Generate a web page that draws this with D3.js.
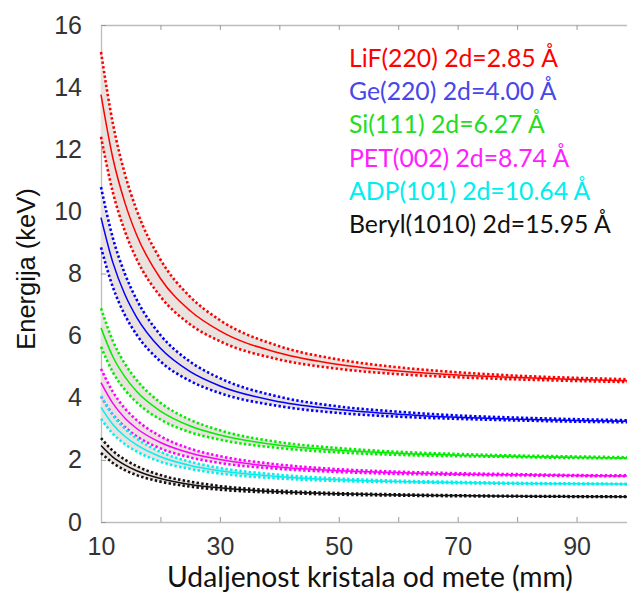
<!DOCTYPE html>
<html>
<head>
<meta charset="utf-8">
<script src="https://cdn.jsdelivr.net/npm/d3@7.8.5/dist/d3.min.js"></script>
<style>
  html, body { margin: 0; padding: 0; background: #fff; }
  svg { display: block; }
</style>
</head>
<body>
<div id="chart"></div>
<script>
// distance of crystal from target (mm)
const distances = [10, 12, 14, 16, 20, 25, 30, 40, 50, 60, 70, 80, 90, 100]

// energy (keV): middle line, upper and lower dotted bound
const lifMid = [13.76, 11.71, 10.29, 9.24, 7.84, 6.80, 6.15, 5.44, 5.07, 4.86, 4.73, 4.65, 4.59, 4.54]
const lifHi  = [15.13, 12.83, 11.22, 10.04, 8.45, 7.25, 6.50, 5.66, 5.23, 4.98, 4.82, 4.71, 4.64, 4.59]
const lifLo  = [12.40, 10.61, 9.37, 8.46, 7.26, 6.36, 5.82, 5.23, 4.93, 4.76, 4.66, 4.59, 4.54, 4.50]

const geMid = [9.80, 8.35, 7.33, 6.59, 5.59, 4.84, 4.38, 3.87, 3.62, 3.47, 3.37, 3.31, 3.27, 3.24]
const geHi  = [10.78, 9.14, 8.00, 7.16, 6.02, 5.16, 4.63, 4.03, 3.72, 3.55, 3.43, 3.36, 3.31, 3.27]
const geLo  = [8.84, 7.56, 6.67, 6.03, 5.17, 4.54, 4.15, 3.73, 3.51, 3.39, 3.32, 3.27, 3.23, 3.21]

const siMid = [6.25, 5.32, 4.68, 4.20, 3.57, 3.09, 2.80, 2.47, 2.31, 2.21, 2.15, 2.11, 2.08, 2.06]
const siHi  = [6.88, 5.83, 5.10, 4.57, 3.84, 3.29, 2.95, 2.57, 2.38, 2.26, 2.19, 2.14, 2.11, 2.08]
const siLo  = [5.64, 4.82, 4.26, 3.85, 3.30, 2.89, 2.65, 2.38, 2.24, 2.16, 2.12, 2.09, 2.06, 2.05]

const petMid = [4.49, 3.82, 3.35, 3.01, 2.56, 2.22, 2.01, 1.77, 1.65, 1.59, 1.54, 1.52, 1.50, 1.48]
const petHi  = [4.93, 4.19, 3.66, 3.28, 2.76, 2.36, 2.12, 1.85, 1.70, 1.62, 1.57, 1.54, 1.51, 1.50]
const petLo  = [4.04, 3.46, 3.06, 2.76, 2.37, 2.08, 1.90, 1.71, 1.61, 1.55, 1.52, 1.50, 1.48, 1.47]

const adpMid = [3.69, 3.14, 2.76, 2.48, 2.10, 1.82, 1.65, 1.46, 1.36, 1.30, 1.27, 1.24, 1.23, 1.22]
const adpHi  = [4.05, 3.44, 3.01, 2.69, 2.26, 1.94, 1.74, 1.52, 1.40, 1.33, 1.29, 1.26, 1.24, 1.23]
const adpLo  = [3.32, 2.84, 2.51, 2.27, 1.94, 1.71, 1.56, 1.40, 1.32, 1.28, 1.25, 1.23, 1.22, 1.21]

const berylMid = [2.46, 2.09, 1.84, 1.65, 1.40, 1.21, 1.10, 0.97, 0.91, 0.87, 0.85, 0.83, 0.82, 0.81]
const berylHi  = [2.70, 2.29, 2.01, 1.80, 1.51, 1.30, 1.16, 1.01, 0.93, 0.89, 0.86, 0.84, 0.83, 0.82]
const berylLo  = [2.22, 1.90, 1.67, 1.51, 1.30, 1.14, 1.04, 0.94, 0.88, 0.85, 0.83, 0.82, 0.81, 0.81]

const crystalLabels = [
  "LiF(220) 2d=2.85 Å",
  "Ge(220) 2d=4.00 Å",
  "Si(111) 2d=6.27 Å",
  "PET(002) 2d=8.74 Å",
  "ADP(101) 2d=10.64 Å",
  "Beryl(1010) 2d=15.95 Å"
]

const xTicks = [10, 20, 30, 40, 50, 60, 70, 80, 90, 100]
const xTickLabels = [10, 30, 50, 70, 90]
const yTicks = [0, 2, 4, 6, 8, 10, 12, 14, 16]

const lineColors = ["#ff0000", "#0000ff", "#00ee00", "#ff00ff", "#00f0f0", "#111111"]
const textColors = ["#ff0000", "#4747e8", "#22dd22", "#ff20ff", "#00eeee", "#111111"]

const crystals = [
  {mid: lifMid, hi: lifHi, lo: lifLo},
  {mid: geMid, hi: geHi, lo: geLo},
  {mid: siMid, hi: siHi, lo: siLo},
  {mid: petMid, hi: petHi, lo: petLo},
  {mid: adpMid, hi: adpHi, lo: adpLo},
  {mid: berylMid, hi: berylHi, lo: berylLo},
].map((c, i) => ({...c, label: crystalLabels[i], color: lineColors[i], textColor: textColors[i]}))

const width = 627, height = 592
const margin = {top: 25, left: 101, bottom: 70}
const plotRight = 636 // axes box continues past the crop on the right

const x = d3.scaleLinear().domain([10, 100]).range([margin.left, plotRight])
const y = d3.scaleLinear().domain([0, 16]).range([height - margin.bottom, margin.top])

const svg = d3.select("#chart").append("svg")
  .attr("width", width)
  .attr("height", height)

svg.append("rect").attr("width", width).attr("height", height).attr("fill", "#fff")

const axisColor = "#bdbdbd"
const tickFont = "Liberation Sans, Arial, sans-serif"
const labelFont = "Lato, Open Sans, sans-serif"

// axes box
const gx = svg.append("g")
  .attr("transform", `translate(0,${y(0)})`)
  .call(d3.axisBottom(x).tickValues(xTicks).tickSizeInner(-5).tickSizeOuter(0).tickPadding(15)
    .tickFormat(d => xTickLabels.includes(d) ? d : ""))
const gxTop = svg.append("g")
  .attr("transform", `translate(0,${y(16)})`)
  .call(d3.axisTop(x).tickValues(xTicks).tickSizeInner(-5).tickSizeOuter(0).tickFormat(""))
const gy = svg.append("g")
  .attr("transform", `translate(${x(10)},0)`)
  .call(d3.axisLeft(y).tickValues(yTicks).tickSizeInner(-5).tickSizeOuter(0).tickPadding(19))

for (const g of [gx, gxTop, gy]) {
  g.attr("font-family", tickFont).attr("font-size", 25)
  g.select(".domain").attr("stroke", axisColor).attr("stroke-width", 1.3)
  g.selectAll(".tick line").attr("stroke", "#999").attr("stroke-width", 1)
  g.selectAll(".tick text").attr("fill", "#333")
}

const area = d3.area()
  .x((d, i) => x(distances[i]))
  .y0(d => y(d[0]))
  .y1(d => y(d[1]))
  .curve(d3.curveMonotoneX)

const line = d3.line()
  .x((d, i) => x(distances[i]))
  .y(d => y(d))
  .curve(d3.curveMonotoneX)

// shaded band between bounds
svg.append("g").selectAll("path")
  .data(crystals)
  .join("path")
    .attr("d", c => area(c.lo.map((v, i) => [v, c.hi[i]])))
    .attr("fill", "#e9e2df")

// dotted bounds
const dotG = svg.append("g")
for (const c of crystals) {
  dotG.selectAll(null)
    .data([c.hi, c.lo])
    .join("path")
      .attr("d", line)
      .attr("fill", "none")
      .attr("stroke", c.color)
      .attr("stroke-width", 2.6)
      .attr("stroke-dasharray", "2.4,2.3")
}

// middle lines
svg.append("g").selectAll("path")
  .data(crystals)
  .join("path")
    .attr("d", c => line(c.mid))
    .attr("fill", "none")
    .attr("stroke", c => c.color)
    .attr("stroke-width", 1.5)

// axis titles
svg.append("text")
  .attr("transform", "translate(35,269) rotate(-90)")
  .attr("text-anchor", "middle")
  .attr("font-family", tickFont)
  .attr("font-size", 25.5)
  .attr("fill", "#111")
  .text("Energija (keV)")

const xTitle = svg.append("text")
  .attr("x", 370)
  .attr("y", 587)
  .attr("text-anchor", "middle")
  .attr("font-family", labelFont)
  .attr("font-size", 26)
  .attr("fill", "#111")
  .text("Udaljenost kristala od mete (mm)")
xTitle.attr("font-size", 26 * 406 / xTitle.node().getComputedTextLength())

// legend
const legend = svg.append("g")
  .attr("font-family", labelFont)
  .attr("font-size", 24)
const legendText = legend.selectAll("text")
  .data(crystals)
  .join("text")
    .attr("x", 349)
    .attr("y", (d, i) => 66.7 + i * 33.3)
    .attr("fill", d => d.textColor)
    .text(d => d.label)
const firstW = legendText.node().getComputedTextLength()
legend.attr("font-size", 24 * 209 / firstW)
</script>
</body>
</html>
